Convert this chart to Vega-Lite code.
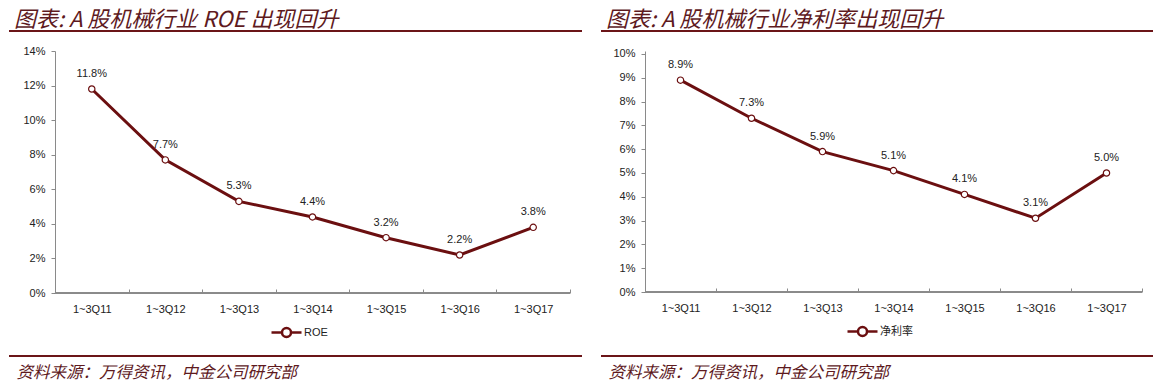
{
  "$schema": "https://vega.github.io/schema/vega-lite/v6.json",
  "padding": {"left": 8, "top": 9, "right": 4, "bottom": 8},
  "spacing": 17,
  "background": "white",
  "resolve": {"scale": {"color": "independent"}, "legend": {"color": "independent"}},
  "config": {
    "view": {"stroke": null},
    "font": "Liberation Sans",
    "axis": {"labelFont": "Liberation Sans", "labelFontSize": 11, "labelColor": "#222222", "domainColor": "#8a8a8a", "tickColor": "#8a8a8a", "grid": false},
    "legend": {"labelFontSize": 11, "labelColor": "#222222", "padding": 0},
    "title": {"anchor": "start", "frame": "group", "font": "Noto Sans CJK SC", "fontStyle": "italic", "fontWeight": "normal", "fontSize": 22, "color": "#5E1A1E", "offset": -2, "dx": 5}
  },
  "hconcat": [
    {
      "width": 573,
      "height": 242,
      "title": "图表: A 股机械行业 ROE 出现回升",
      "data": {"values": [
        {"period": "1~3Q11", "value": 0.118, "series": "ROE"},
        {"period": "1~3Q12", "value": 0.077, "series": "ROE"},
        {"period": "1~3Q13", "value": 0.053, "series": "ROE"},
        {"period": "1~3Q14", "value": 0.044, "series": "ROE"},
        {"period": "1~3Q15", "value": 0.032, "series": "ROE"},
        {"period": "1~3Q16", "value": 0.022, "series": "ROE"},
        {"period": "1~3Q17", "value": 0.038, "series": "ROE"}
      ]},
      "encoding": {
        "x": {"field": "period", "type": "nominal", "sort": null,
          "scale": {"domain": ["1~3Q11", "1~3Q12", "1~3Q13", "1~3Q14", "1~3Q15", "1~3Q16", "1~3Q17"], "paddingInner": 0, "paddingOuter": 0.394, "align": 0.793},
          "axis": {"title": "资料来源：万得资讯，中金公司研究部", "titleAnchor": "start", "titleX": 7, "titleFont": "Noto Sans CJK SC", "titleFontStyle": "italic", "titleFontWeight": "normal", "titleFontSize": 16.5, "titleColor": "#5E1A1E", "titlePadding": 50, "domain": false, "labelAngle": 0, "tickBand": "extent", "tickSize": -4, "labelPadding": 14}},
        "y": {"field": "value", "type": "quantitative", "scale": {"domain": [0, 0.14], "nice": false},
          "axis": {"title": null, "offset": -46, "format": ".0%", "values": [0, 0.02, 0.04, 0.06, 0.08, 0.1, 0.12, 0.14], "tickSize": 4, "labelPadding": 6}}
      },
      "layer": [
        {"mark": {"type": "rule", "color": "#6B1518", "strokeWidth": 2}, "encoding": {"x": null, "y": {"datum": 0.15157}}},
        {"mark": {"type": "rule", "color": "#6B1518", "strokeWidth": 2}, "encoding": {"x": null, "y": {"datum": -0.03645}}},
        {"mark": {"type": "rule", "color": "#8a8a8a", "strokeWidth": 1}, "encoding": {"x": {"datum": "1~3Q11", "bandPosition": 0}, "x2": {"datum": "1~3Q17", "bandPosition": 1}, "y": {"datum": 0}}},
        {
          "mark": {"type": "line", "strokeWidth": 3},
          "encoding": {"color": {"field": "series", "type": "nominal", "scale": {"range": ["#6B0F10"]},
            "legend": {"orient": "none", "legendX": 266, "legendY": 270, "title": null, "labelOffset": 6, "symbolType": "M-1.5,0L-0.45,0M0.45,0L1.5,0M0.45,0A0.45,0.45 0 1,1 -0.45,0A0.45,0.45 0 1,1 0.45,0", "symbolSize": 400, "symbolFillColor": "white", "symbolStrokeColor": "#6B0F10", "symbolStrokeWidth": 2.5}}}
        },
        {"mark": {"type": "point", "filled": true, "fill": "white", "stroke": "#6B0F10", "strokeWidth": 1.2, "size": 40, "opacity": 1}},
        {"mark": {"type": "text", "dy": -15, "fontSize": 11, "color": "#222222"}, "encoding": {"text": {"field": "value", "type": "quantitative", "format": ".1%"}}}
      ]
    },
    {
      "width": 552,
      "height": 241,
      "title": "图表: A 股机械行业净利率出现回升",
      "data": {"values": [
        {"period": "1~3Q11", "value": 0.089, "series": "净利率"},
        {"period": "1~3Q12", "value": 0.073, "series": "净利率"},
        {"period": "1~3Q13", "value": 0.059, "series": "净利率"},
        {"period": "1~3Q14", "value": 0.051, "series": "净利率"},
        {"period": "1~3Q15", "value": 0.041, "series": "净利率"},
        {"period": "1~3Q16", "value": 0.031, "series": "净利率"},
        {"period": "1~3Q17", "value": 0.050, "series": "净利率"}
      ]},
      "encoding": {
        "x": {"field": "period", "type": "nominal", "sort": null,
          "scale": {"domain": ["1~3Q11", "1~3Q12", "1~3Q13", "1~3Q14", "1~3Q15", "1~3Q16", "1~3Q17"], "paddingInner": 0, "paddingOuter": 0.3873, "align": 0.8},
          "axis": {"title": "资料来源：万得资讯，中金公司研究部", "titleAnchor": "start", "titleX": 7, "titleFont": "Noto Sans CJK SC", "titleFontStyle": "italic", "titleFontWeight": "normal", "titleFontSize": 16.5, "titleColor": "#5E1A1E", "titlePadding": 51, "domain": false, "labelAngle": 0, "tickBand": "extent", "tickSize": -4, "labelPadding": 14}},
        "y": {"field": "value", "type": "quantitative", "scale": {"domain": [0, 0.10126], "nice": false},
          "axis": {"title": null, "offset": -44, "format": ".0%", "values": [0, 0.01, 0.02, 0.03, 0.04, 0.05, 0.06, 0.07, 0.08, 0.09, 0.1], "tickSize": 4, "labelPadding": 6}}
      },
      "layer": [
        {"mark": {"type": "rule", "color": "#6B1518", "strokeWidth": 2}, "encoding": {"x": null, "y": {"datum": 0.10966}}},
        {"mark": {"type": "rule", "color": "#6B1518", "strokeWidth": 2}, "encoding": {"x": null, "y": {"datum": -0.02689}}},
        {"mark": {"type": "rule", "color": "#8a8a8a", "strokeWidth": 1}, "encoding": {"x": {"datum": "1~3Q11", "bandPosition": 0}, "x2": {"datum": "1~3Q17", "bandPosition": 1}, "y": {"datum": 0}}},
        {
          "mark": {"type": "line", "strokeWidth": 3},
          "encoding": {"color": {"field": "series", "type": "nominal", "scale": {"range": ["#6B0F10"]},
            "legend": {"orient": "none", "legendX": 250, "legendY": 269, "title": null, "labelOffset": 6, "labelFont": "Noto Sans CJK SC", "symbolType": "M-1.5,0L-0.45,0M0.45,0L1.5,0M0.45,0A0.45,0.45 0 1,1 -0.45,0A0.45,0.45 0 1,1 0.45,0", "symbolSize": 400, "symbolFillColor": "white", "symbolStrokeColor": "#6B0F10", "symbolStrokeWidth": 2.5}}}
        },
        {"mark": {"type": "point", "filled": true, "fill": "white", "stroke": "#6B0F10", "strokeWidth": 1.2, "size": 40, "opacity": 1}},
        {"mark": {"type": "text", "dy": -15, "fontSize": 11, "color": "#222222"}, "encoding": {"text": {"field": "value", "type": "quantitative", "format": ".1%"}}}
      ]
    }
  ]
}
